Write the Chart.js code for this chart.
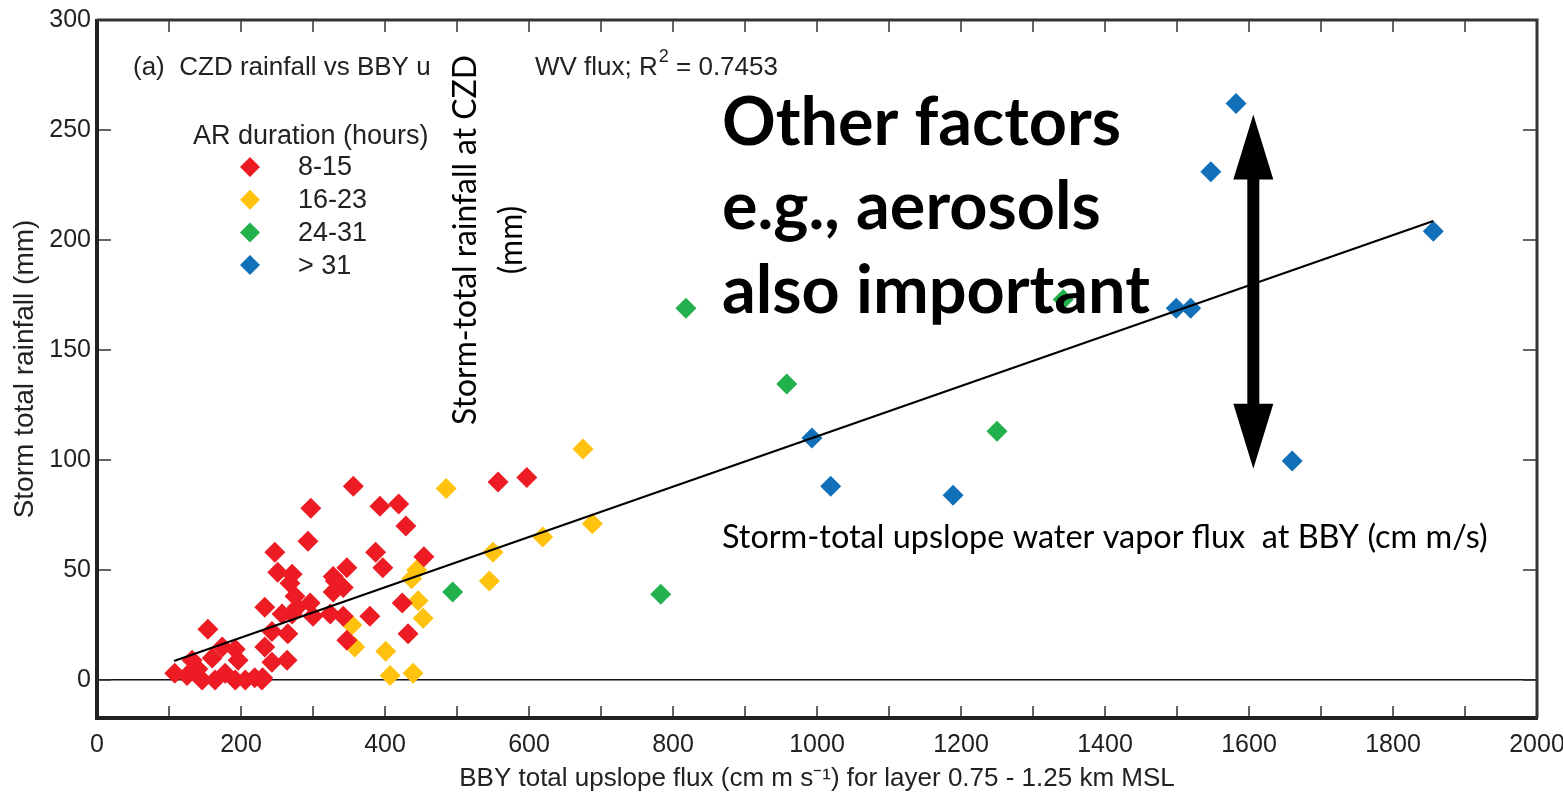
<!DOCTYPE html>
<html lang="en">
<head>
<meta charset="UTF-8">
<title>CZD rainfall vs BBY upslope flux</title>
<script src="https://cdn.jsdelivr.net/npm/chart.js"></script>
<style>
  html, body { margin: 0; padding: 0; background: #fff; }
  canvas { display: block; }
</style>
</head>
<body>
<canvas id="fluxChart" width="1563" height="798"></canvas>
<script>
  // AR duration 8-15 h
  const redX = [356, 297, 393, 419, 429, 387, 397, 454, 293, 347, 328, 557, 597,
    247, 251, 271, 275, 233, 257, 268, 296, 278, 328, 342, 324, 342, 300, 379, 347, 424, 432, 264, 331,
    154, 108, 125, 140, 146, 164, 178, 192, 196, 192, 206, 219, 229, 243, 233, 243, 265, 271, 174, 160, 132, 230];
  const redY = [88, 78, 79, 80, 70, 58, 51, 56, 63, 51, 47, 90, 92,
    58, 49, 48, 38, 33, 30, 44, 35, 33, 40, 42, 30, 29, 29, 29, 18, 35, 21, 9, 45,
    23, 3, 2, 5, 0, 0, 3, 14, 9, 0, 0, 1, 0, 8, 15, 22, 21, 30, 15, 10, 9, 1];
  // 16-23 h
  const yellowX = [485, 675, 688, 619, 550, 545, 444, 437, 446, 453, 354, 358, 401, 407, 439];
  const yellowY = [87, 105, 71, 65, 58, 45, 50, 46, 36, 28, 25, 15, 13, 2, 3];
  // 24-31 h
  const greenX = [494, 783, 818, 958, 1250, 1342];
  const greenY = [40, 39, 169, 134.5, 113, 173];
  // > 31 h
  const blueX = [1582, 1547, 1856, 1499, 1519, 993, 1019, 1189, 1660];
  const blueY = [262, 231, 204, 169, 169, 110, 88, 84, 99.5];
  // regression line end points
  const fitX = [107, 1856];
  const fitY = [8.6, 208.6];

  const yTicks = [0, 50, 100, 150, 200, 250, 300];
  const legendLabels = ['8-15', '16-23', '24-31', '> 31'];
  const colors = ['#ED1C24', '#FFC20E', '#22B14C', '#1170B8'];

  const pts = (xs, ys) => xs.map((v, i) => ({ x: v, y: ys[i] }));

  function scatterSet(label, xs, ys, color) {
    return {
      type: 'scatter',
      label: label,
      data: pts(xs, ys),
      pointStyle: 'rectRot',
      pointRadius: 10.5,
      pointHoverRadius: 10.5,
      borderWidth: 0,
      backgroundColor: color,
      order: 2
    };
  }

  function fitSize(ctx, text, font, width) {
    ctx.font = font.replace('SIZE', '100px');
    return 100 * width / ctx.measureText(text).width;
  }

  const decor = {
    id: 'decor',
    afterDraw(chart) {
      const { ctx, chartArea: a, scales: { x, y } } = chart;
      ctx.save();

      // inward ticks
      ctx.strokeStyle = '#333';
      ctx.lineWidth = 1.5;
      ctx.beginPath();
      for (let v = 100; v < 2000; v += 100) {
        const px = x.getPixelForValue(v);
        ctx.moveTo(px, a.bottom); ctx.lineTo(px, a.bottom - 12);
        ctx.moveTo(px, a.top); ctx.lineTo(px, a.top + 12);
      }
      yTicks.forEach(v => {
        if (v === 300) return;
        const py = y.getPixelForValue(v);
        ctx.moveTo(a.left, py); ctx.lineTo(a.left + 14, py);
        ctx.moveTo(a.right, py); ctx.lineTo(a.right - 14, py);
      });
      ctx.stroke();

      // frame
      ctx.strokeStyle = '#222';
      ctx.lineWidth = 4;
      ctx.beginPath();
      ctx.moveTo(a.left, a.top - 1); ctx.lineTo(a.left, a.bottom);
      ctx.lineTo(a.right + 1, a.bottom);
      ctx.stroke();
      ctx.strokeStyle = '#333';
      ctx.lineWidth = 3;
      ctx.beginPath();
      ctx.moveTo(a.left, a.top); ctx.lineTo(a.right, a.top);
      ctx.lineTo(a.right, a.bottom);
      ctx.stroke();

      // panel title
      ctx.fillStyle = '#222';
      ctx.textBaseline = 'alphabetic';
      ctx.textAlign = 'left';
      ctx.font = '26px "Liberation Sans", Arial, sans-serif';
      ctx.fillText('(a)  CZD rainfall vs BBY u', 133, 75);
      let tx = 535;
      ctx.fillText('WV flux; R', tx, 75);
      tx += ctx.measureText('WV flux; R').width;
      ctx.font = '18px "Liberation Sans", Arial, sans-serif';
      ctx.fillText('2', tx + 1, 62);
      tx += ctx.measureText('2').width + 1;
      ctx.font = '26px "Liberation Sans", Arial, sans-serif';
      ctx.fillText(' = 0.7453', tx, 75);

      // legend
      ctx.font = '27px "Liberation Sans", Arial, sans-serif';
      ctx.fillText('AR duration (hours)', 193, 144);
      ctx.textBaseline = 'middle';
      legendLabels.forEach((lab, i) => {
        const ly = 167 + i * 32.7;
        ctx.fillStyle = colors[i];
        ctx.beginPath();
        ctx.moveTo(250, ly - 10); ctx.lineTo(260, ly);
        ctx.lineTo(250, ly + 10); ctx.lineTo(240, ly);
        ctx.closePath();
        ctx.fill();
        ctx.fillStyle = '#222';
        ctx.fillText(lab, 298, ly + 1);
      });

      // rotated note
      ctx.fillStyle = '#000';
      const rotFont = 'SIZE Lato, "Open Sans", sans-serif';
      const rs = fitSize(ctx, 'Storm-total rainfall at CZD', rotFont, 370);
      ctx.font = rotFont.replace('SIZE', rs + 'px');
      ctx.save();
      ctx.translate(466, 240);
      ctx.rotate(-Math.PI / 2);
      ctx.textAlign = 'center';
      ctx.textBaseline = 'middle';
      ctx.fillText('Storm-total rainfall at CZD', 0, 0);
      ctx.fillText('(mm)', 0, 46);
      ctx.restore();

      // big note
      const bigFont = 'bold SIZE Lato, "Open Sans", sans-serif';
      const bs = fitSize(ctx, 'also important', bigFont, 428);
      ctx.font = bigFont.replace('SIZE', bs + 'px');
      ctx.textAlign = 'left';
      ctx.textBaseline = 'alphabetic';
      ctx.fillText('Other factors', 722, 145);
      ctx.fillText('e.g., aerosols', 722, 229);
      ctx.fillText('also important', 722, 313);

      const noteFont = 'SIZE Lato, "Open Sans", sans-serif';
      const noteText = 'Storm-total upslope water vapor flux  at BBY (cm m/s)';
      const ns = fitSize(ctx, noteText, noteFont, 766);
      ctx.font = noteFont.replace('SIZE', ns + 'px');
      ctx.fillText(noteText, 722, 548);

      // double-headed arrow
      const ax = x.getPixelForValue(1606);
      const top = y.getPixelForValue(257);
      const bot = y.getPixelForValue(96);
      const hw = 20, hl = 65, sw = 6;
      ctx.fillStyle = '#000';
      ctx.beginPath();
      ctx.moveTo(ax, top);
      ctx.lineTo(ax + hw, top + hl);
      ctx.lineTo(ax + sw, top + hl);
      ctx.lineTo(ax + sw, bot - hl);
      ctx.lineTo(ax + hw, bot - hl);
      ctx.lineTo(ax, bot);
      ctx.lineTo(ax - hw, bot - hl);
      ctx.lineTo(ax - sw, bot - hl);
      ctx.lineTo(ax - sw, top + hl);
      ctx.lineTo(ax - hw, top + hl);
      ctx.closePath();
      ctx.fill();

      ctx.restore();
    }
  };

  const ctx = document.getElementById('fluxChart').getContext('2d');
  new Chart(ctx, {
    data: {
      datasets: [
        {
          type: 'line',
          label: 'fit',
          data: pts(fitX, fitY),
          borderColor: '#000',
          borderWidth: 2.2,
          pointRadius: 0,
          fill: false,
          order: 1
        },
        scatterSet('8-15', redX, redY, colors[0]),
        scatterSet('16-23', yellowX, yellowY, colors[1]),
        scatterSet('24-31', greenX, greenY, colors[2]),
        scatterSet('> 31', blueX, blueY, colors[3])
      ]
    },
    options: {
      responsive: false,
      animation: false,
      events: [],
      layout: { padding: { top: 20, right: 26, left: 0, bottom: 0 } },
      plugins: {
        legend: { display: false },
        tooltip: { enabled: false }
      },
      scales: {
        x: {
          type: 'linear',
          min: 0,
          max: 2000,
          afterFit(scale) {
            scale.height = 80;
            scale.paddingLeft = 0;
            scale.paddingRight = 0;
          },
          grid: { display: false },
          border: { display: false },
          ticks: {
            stepSize: 100,
            autoSkip: false,
            maxRotation: 0,
            padding: 4,
            color: '#222',
            font: { family: '"Liberation Sans", Arial, sans-serif', size: 25 },
            callback: v => (v % 200 === 0 ? v : '')
          },
          title: {
            display: true,
            text: 'BBY total upslope flux (cm m s\u207B\u00B9) for layer 0.75 - 1.25 km MSL',
            color: '#222',
            padding: { top: 0, bottom: 4 },
            font: { family: '"Liberation Sans", Arial, sans-serif', size: 26 }
          }
        },
        y: {
          type: 'linear',
          min: -17.3,
          max: 300,
          afterFit(scale) {
            scale.width = 97;
            scale.paddingTop = 0;
            scale.paddingBottom = 0;
          },
          border: { display: false },
          grid: {
            drawTicks: false,
            color: c => (c.tick && c.tick.value === 0 ? '#111' : 'rgba(0,0,0,0)'),
            lineWidth: 1.5
          },
          ticks: {
            stepSize: 50,
            includeBounds: false,
            padding: 6,
            color: '#222',
            font: { family: '"Liberation Sans", Arial, sans-serif', size: 25 }
          },
          title: {
            display: true,
            text: 'Storm total rainfall (mm)',
            color: '#222',
            padding: { top: 8, bottom: 0 },
            font: { family: '"Liberation Sans", Arial, sans-serif', size: 28 }
          }
        }
      }
    },
    plugins: [decor]
  });
</script>
</body>
</html>
